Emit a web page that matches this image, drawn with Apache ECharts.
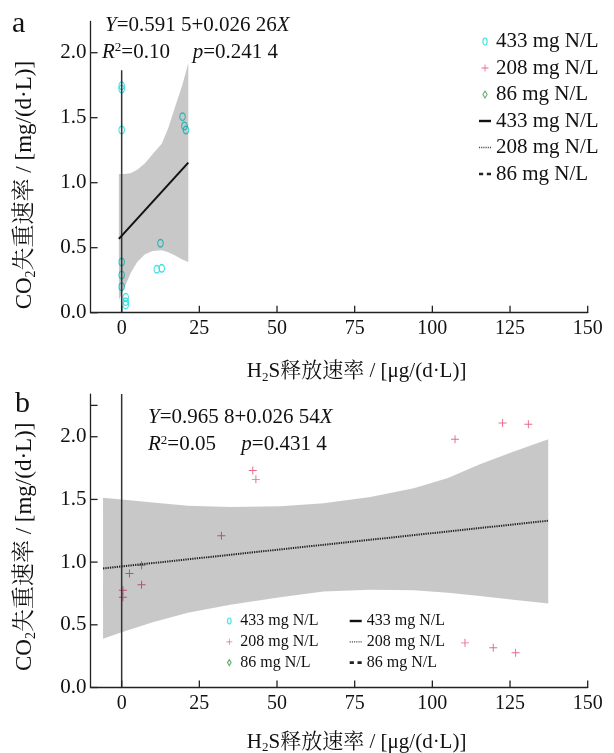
<!DOCTYPE html>
<html>
<head>
<meta charset="utf-8">
<script src="https://cdn.jsdelivr.net/npm/echarts@6/dist/echarts.min.js"></script>
<style>
  html, body { margin: 0; padding: 0; background: #fff; }
  #chart { width: 614px; height: 753px; }
</style>
</head>
<body>
<div id="chart"></div>
<script>
// ---- Panel a: 433 mg N/L observations ----
const a433X = [0, 0, 0, 0, 0, 0, 1.3, 1.3, 1.3, 12.5, 11.3, 12.9, 19.6, 20.2, 20.7];
const a433Y = [1.745, 1.72, 1.405, 0.39, 0.29, 0.20, 0.118, 0.085, 0.06, 0.534, 0.334, 0.341, 1.508, 1.436, 1.405];

// ---- Panel b: 208 mg N/L observations ----
const b208X = [0.4, 0.4, 2.5, 6.4, 6.4, 32.1, 42.2, 43.2, 107.3, 122.6, 130.9, 110.5, 119.6, 126.8];
const b208Y = [0.776, 0.72, 0.91, 0.975, 0.82, 1.21, 1.73, 1.66, 1.98, 2.11, 2.10, 0.356, 0.317, 0.277];

// ---- Linear fits: [intercept, slope] and the x range they are drawn over ----
const fitA = [0.5915, 0.02626];
const fitARange = [-0.9, 21.45];
const fitB = [0.9658, 0.002654];
const fitBRange = [-6, 137.3];

// ---- Confidence bands ----
const bandAX    = [-0.9, 1, 3, 5, 7.5, 10, 12.9, 15, 17.2, 19.5, 21.45];
const bandALow  = [0.098, 0.20, 0.31, 0.39, 0.45, 0.475, 0.48, 0.465, 0.44, 0.41, 0.39];
const bandAHigh = [1.067, 1.067, 1.075, 1.10, 1.15, 1.22, 1.30, 1.42, 1.585, 1.75, 1.92];

const bandBX    = [-6, 0, 10, 21.3, 35, 51, 65, 80, 94, 105, 115.3, 126, 137.3];
const bandBLow  = [0.388, 0.44, 0.52, 0.596, 0.66, 0.72, 0.765, 0.78, 0.775, 0.755, 0.73, 0.70, 0.67];
const bandBHigh = [1.513, 1.50, 1.475, 1.45, 1.44, 1.445, 1.47, 1.52, 1.59, 1.67, 1.78, 1.88, 1.98];

// ---- Vertical reference line at x = 0 (y extent) ----
const zeroLineA = [0, 1.865];
const zeroLineB = [0, 2.34];

// ---- Axis ranges and ticks ----
const xRange = [-10, 150];
const yRangeA = [0, 2.24];
const yRangeB = [0, 2.34];
const xTicks = [0, 25, 50, 75, 100, 125, 150];
const yTicks = [0, 0.5, 1.0, 1.5, 2.0];
const yTicksB = [0, 0.5, 1.0, 1.5, 2.0, 2.25];

// ---- Text ----
const legendNames = ['433 mg N/L', '208 mg N/L', '86 mg N/L'];
const SERIF = "'Liberation Serif', 'Times New Roman', 'Noto Serif CJK SC', 'Noto Sans CJK SC', serif";
const INK = '#111';
const AXIS = '#222';
const CYAN = '#18dcdf';
const RED = '#e2456b';
const GREEN = '#3f9a48';

const ELLIPSE = 'path://M3,0A3,5,0,1,1,3,10A3,5,0,1,1,3,0Z';
const PLUS = 'path://M4.4,0H5.6V4.4H10V5.6H5.6V10H4.4V5.6H0V4.4H4.4Z';
const DIAMOND = 'path://M3,0L6,5L3,10L0,5Z';
const LINE_SOLID = 'path://M0,0H12V2.4H0Z';
const LINE_DOT = 'path://M0,0h1v1.2h-1zM2,0h1v1.2h-1zM4,0h1v1.2h-1zM6,0h1v1.2h-1zM8,0h1v1.2h-1zM10,0h1v1.2h-1z';
const LINE_DASH = 'path://M0,0h3.5v2.2h-3.5zM6.5,0h3.5v2.2h-3.5z';
const TICK_LEN = 7;

const pairs = (xs, ys) => xs.map((x, i) => [x, ys[i]]);
const fitLine = (fit, range) => range.map(x => [x, fit[0] + fit[1] * x]);

function bandSeries(xs, lo, hi, idx) {
  return {
    type: 'custom', xAxisIndex: idx, yAxisIndex: idx, z: 4, silent: true,
    data: [[xs[0], lo[0]]],
    renderItem: (params, api) => {
      const pts = [];
      for (let i = 0; i < xs.length; i++) pts.push(api.coord([xs[i], hi[i]]));
      for (let i = xs.length - 1; i >= 0; i--) pts.push(api.coord([xs[i], lo[i]]));
      return { type: 'polygon', shape: { points: pts }, style: { fill: 'rgba(0,0,0,0.215)' } };
    }
  };
}

// Inward tick marks on both axes of one panel, placed through the axis scales
function tickSeries(idx, yTickVals, yMin) {
  const data = xTicks.map(v => [v, yMin, 0]).concat(yTickVals.map(v => [xRange[0], v, 1]));
  return {
    type: 'custom', xAxisIndex: idx, yAxisIndex: idx, z: 10, silent: true, clip: false,
    data: data,
    renderItem: (params, api) => {
      const p = api.coord([api.value(0), api.value(1)]);
      const vertical = api.value(2) === 0;
      return {
        type: 'line',
        shape: vertical
          ? { x1: p[0], y1: p[1], x2: p[0], y2: p[1] - TICK_LEN }
          : { x1: p[0], y1: p[1], x2: p[0] + TICK_LEN, y2: p[1] },
        style: { stroke: AXIS, lineWidth: 1.3 }
      };
    }
  };
}

function legendItems() {
  return [
    { name: legendNames[0], icon: ELLIPSE, itemStyle: { color: 'rgba(0,0,0,0)', borderColor: CYAN, borderWidth: 1.2 } },
    { name: legendNames[1], icon: PLUS, itemStyle: { color: RED, borderWidth: 0 } },
    { name: legendNames[2], icon: DIAMOND, itemStyle: { color: 'rgba(0,0,0,0)', borderColor: GREEN, borderWidth: 1.1 } },
    { name: legendNames[0] + ' ', icon: LINE_SOLID, itemStyle: { color: '#111', borderWidth: 0 } },
    { name: legendNames[1] + ' ', icon: LINE_DOT, itemStyle: { color: '#444', borderWidth: 0 } },
    { name: legendNames[2] + ' ', icon: LINE_DASH, itemStyle: { color: '#222', borderWidth: 0 } }
  ];
}

const axisLine = () => ({ show: true, onZero: false, lineStyle: { color: AXIS, width: 1.3 } });

function xAxis(idx) {
  return {
    type: 'value', gridIndex: idx, min: xRange[0], max: xRange[1],
    axisLine: axisLine(), axisTick: { show: false }, splitLine: { show: false },
    axisLabel: { customValues: xTicks, margin: 6, fontFamily: SERIF, fontSize: 20, color: INK },
    name: '{n|H}{s|2}{n|S释放速率 / [μg/(d·L)]}',
    nameLocation: 'middle', nameGap: idx === 0 ? 46 : 42,
    nameTextStyle: {
      padding: [0, 0, 0, 35],
      rich: {
        n: { fontFamily: SERIF, fontSize: 21, color: INK, lineHeight: 25 },
        s: { fontFamily: SERIF, fontSize: 13, color: INK, lineHeight: 13, verticalAlign: 'bottom' }
      }
    }
  };
}

function yAxis(idx, range, shift) {
  return {
    type: 'value', gridIndex: idx, min: range[0], max: range[1],
    axisLine: axisLine(), axisTick: { show: false }, splitLine: { show: false },
    axisLabel: { customValues: yTicks, margin: 4, fontFamily: SERIF, fontSize: 21, color: INK,
                 formatter: v => v.toFixed(1) },
    name: '{n|CO}{s|2}{n|失重速率 / [mg/(d·L)]}',
    nameLocation: 'middle', nameRotate: 90, nameGap: 52,
    nameTextStyle: {
      padding: [0, shift, 0, 0],
      rich: {
        n: { fontFamily: SERIF, fontSize: 23, color: INK, lineHeight: 27 },
        s: { fontFamily: SERIF, fontSize: 14, color: INK, lineHeight: 14, verticalAlign: 'bottom' }
      }
    }
  };
}

function noteText(x, y, parts) {
  return {
    type: 'text', x: x, y: y, silent: true,
    style: {
      text: parts, verticalAlign: 'middle', align: 'left',
      rich: {
        n: { fontFamily: SERIF, fontSize: 21, fill: INK },
        i: { fontFamily: SERIF, fontSize: 21, fill: INK, fontStyle: 'italic' },
        sup: { fontFamily: SERIF, fontSize: 13, fill: INK, verticalAlign: 'top', lineHeight: 21 }
      }
    }
  };
}

const chart = echarts.init(document.getElementById('chart'), null, { renderer: 'canvas' });

chart.setOption({
  animation: false,
  backgroundColor: '#fff',
  grid: [
    { left: 90.6, top: 21.5, width: 497.1, height: 291.2, outerBoundsMode: 'none' },
    { left: 90.6, top: 394.1, width: 497.1, height: 293.4, outerBoundsMode: 'none' }
  ],
  xAxis: [xAxis(0), xAxis(1)],
  yAxis: [yAxis(0, yRangeA, 36), yAxis(1, yRangeB, 12)],
  legend: [
    {
      orient: 'vertical', left: 474, top: 26, itemWidth: 12, itemHeight: 7, itemGap: 5.5,
      selectedMode: false,
      textStyle: { fontFamily: SERIF, fontSize: 21, color: INK },
      data: legendItems()
    },
    {
      orient: 'vertical', left: 221.3, top: 608, itemWidth: 12, itemHeight: 6, itemGap: 4.8,
      selectedMode: false,
      textStyle: { fontFamily: SERIF, fontSize: 16, color: INK },
      data: legendItems().slice(0, 3)
    },
    {
      orient: 'vertical', left: 344.7, top: 608, itemWidth: 12, itemHeight: 6, itemGap: 4.8,
      selectedMode: false,
      textStyle: { fontFamily: SERIF, fontSize: 16, color: INK },
      data: legendItems().slice(3)
    }
  ],
  graphic: [
    { type: 'text', x: 12, y: 24, silent: true,
      style: { text: 'a', fontFamily: SERIF, fontSize: 30, fill: INK, verticalAlign: 'middle' } },
    { type: 'text', x: 15, y: 404, silent: true,
      style: { text: 'b', fontFamily: SERIF, fontSize: 30, fill: INK, verticalAlign: 'middle' } },
    noteText(105, 25, '{i|Y}{n|=0.591 5+0.026 26}{i|X}'),
    noteText(102, 52, '{i|R}{sup|2}{n|=0.10}'),
    noteText(192.7, 52, '{i|p}{n|=0.241 4}'),
    noteText(148, 417, '{i|Y}{n|=0.965 8+0.026 54}{i|X}'),
    noteText(148, 444.5, '{i|R}{sup|2}{n|=0.05}'),
    noteText(241.3, 444.5, '{i|p}{n|=0.431 4}')
  ],
  series: [
    // panel a
    {
      type: 'scatter', name: legendNames[0], xAxisIndex: 0, yAxisIndex: 0, z: 3,
      symbol: ELLIPSE, symbolSize: [5.5, 7.5],
      itemStyle: { color: 'rgba(0,0,0,0)', borderColor: CYAN, borderWidth: 1.3 },
      data: pairs(a433X, a433Y)
    },
    bandSeries(bandAX, bandALow, bandAHigh, 0),
    {
      type: 'line', xAxisIndex: 0, yAxisIndex: 0, z: 5, silent: true, showSymbol: false,
      lineStyle: { color: '#333', width: 1.5 },
      data: zeroLineA.map(y => [0, y])
    },
    {
      type: 'line', name: legendNames[0] + ' ', xAxisIndex: 0, yAxisIndex: 0, z: 6,
      showSymbol: false, lineStyle: { color: '#111', width: 2 },
      data: fitLine(fitA, fitARange)
    },
    tickSeries(0, yTicks, yRangeA[0]),
    // panel b
    {
      type: 'scatter', name: legendNames[1], xAxisIndex: 1, yAxisIndex: 1, z: 3,
      symbol: PLUS, symbolSize: 8,
      itemStyle: { color: RED },
      data: pairs(b208X, b208Y)
    },
    bandSeries(bandBX, bandBLow, bandBHigh, 1),
    {
      type: 'line', xAxisIndex: 1, yAxisIndex: 1, z: 5, silent: true, showSymbol: false,
      lineStyle: { color: '#333', width: 1.5 },
      data: zeroLineB.map(y => [0, y])
    },
    {
      type: 'line', name: legendNames[1] + ' ', xAxisIndex: 1, yAxisIndex: 1, z: 6,
      showSymbol: false, lineStyle: { color: '#222', width: 2, type: [1.3, 1] },
      data: fitLine(fitB, fitBRange)
    },
    tickSeries(1, yTicksB, yRangeB[0]),
    // 86 mg N/L: listed in the legends, no observations drawn
    { type: 'scatter', name: legendNames[2], xAxisIndex: 1, yAxisIndex: 1, data: [] },
    { type: 'line', name: legendNames[2] + ' ', xAxisIndex: 1, yAxisIndex: 1, data: [] }
  ]
});
</script>
</body>
</html>
